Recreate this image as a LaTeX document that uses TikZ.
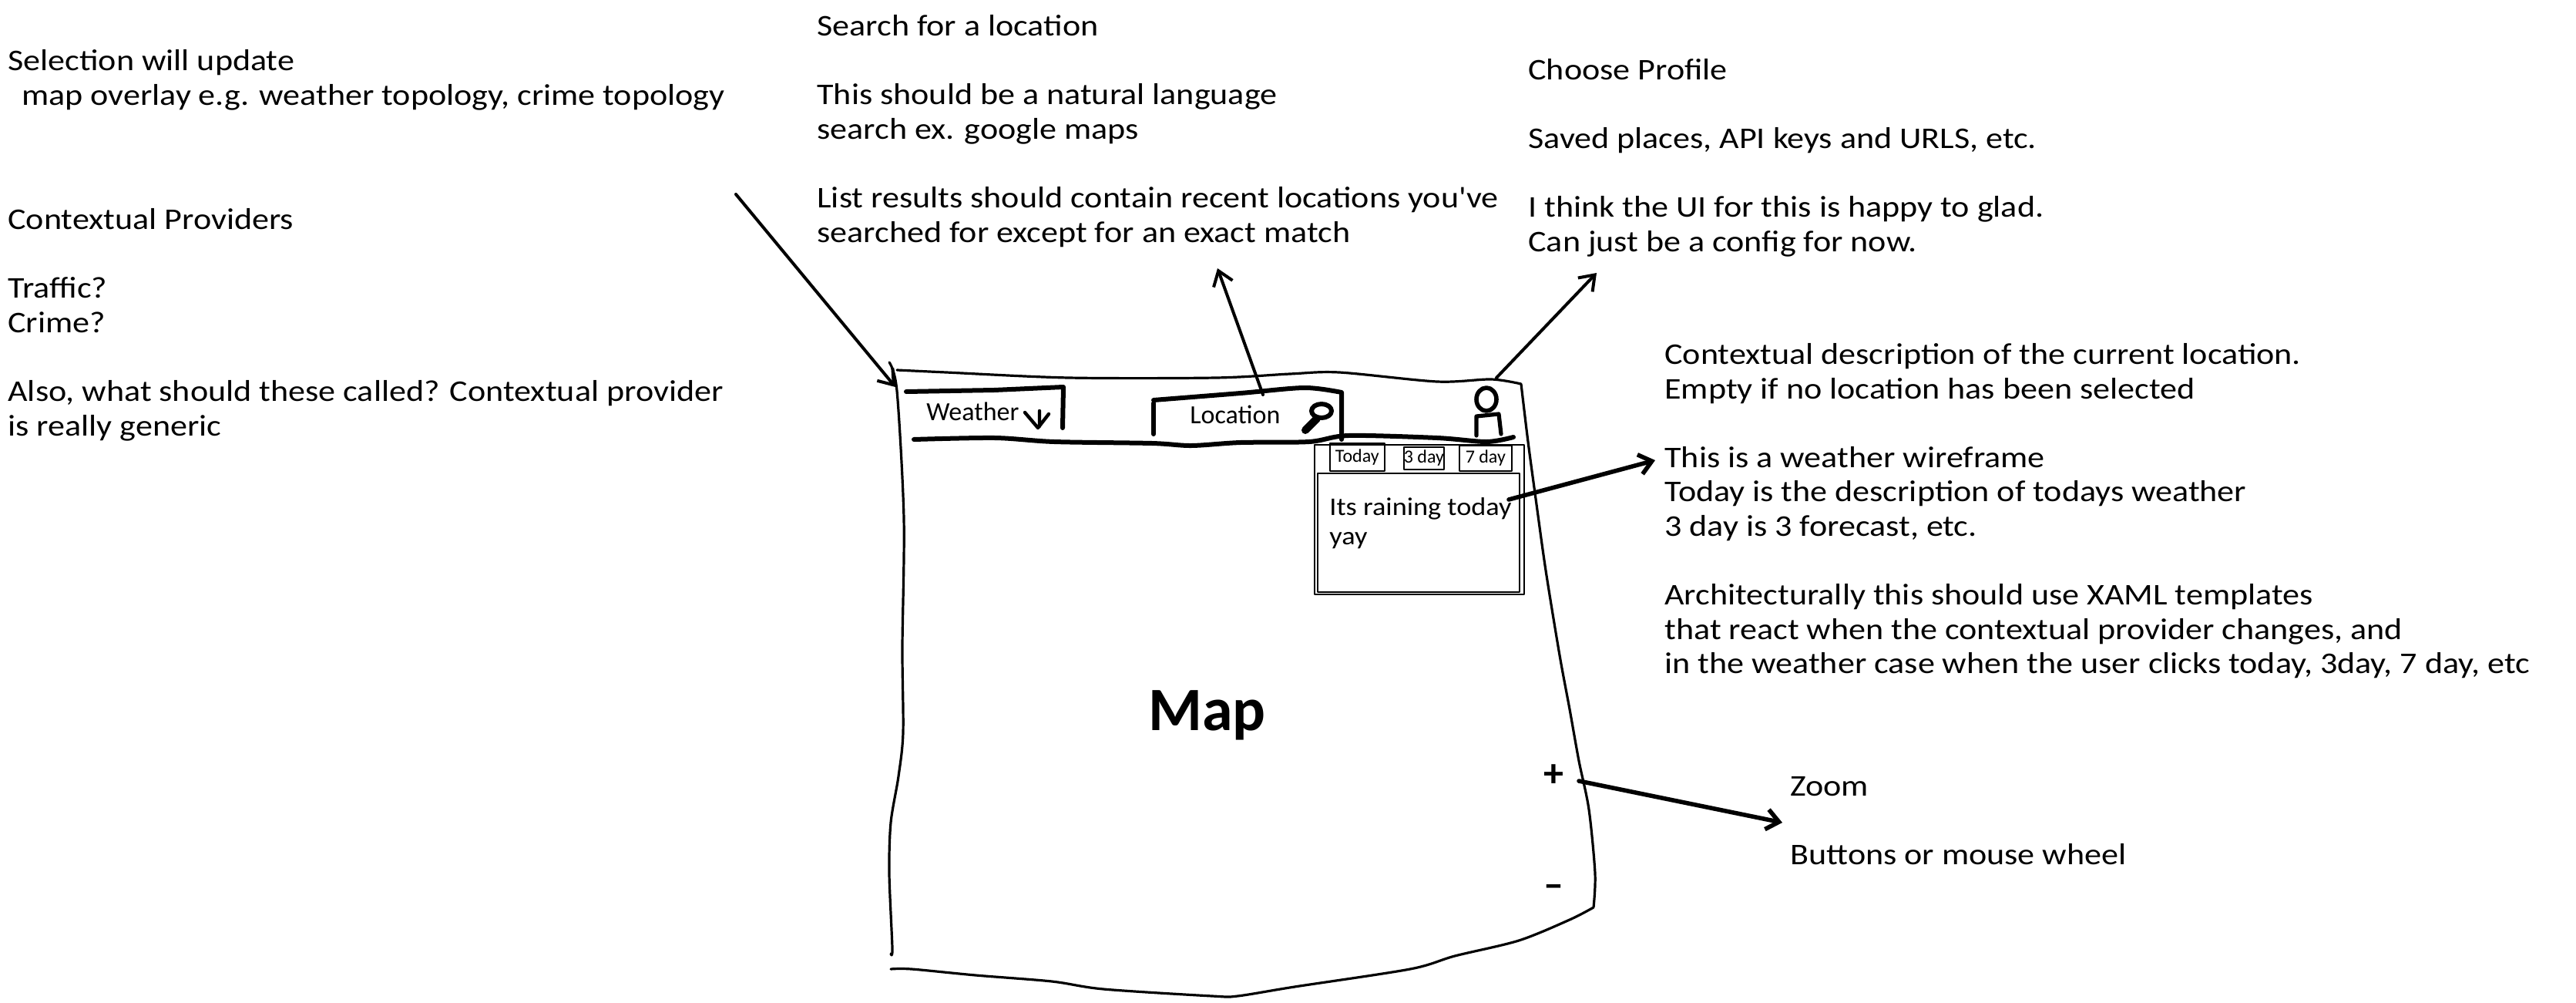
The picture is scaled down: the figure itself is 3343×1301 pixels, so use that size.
\documentclass[tikz,border=0pt]{standalone}
\usepackage{fontspec}
\setmainfont{Carlito}
\usetikzlibrary{arrows.meta}
\newfontfamily\notefamily[FakeStretch=1.13]{Carlito}
\newfontfamily\rainfamily[FakeStretch=1.1]{Carlito}
\tikzset{
  notetext/.style={font=\notefamily\fontsize{19.5}{22.3}\selectfont,align=left,anchor=north west,inner sep=0pt,execute at begin node=\strut},
  uitext/.style={font=\fontsize{17}{22}\selectfont,anchor=base west,inner sep=0pt},
  tabbox/.style={draw,line width=.8pt,font=\fontsize{12}{14}\selectfont,inner sep=0pt,anchor=north west},
  panelbox/.style={draw,line width=.8pt,inner sep=0pt,anchor=north west},
  wobble/.style={line width=1.6pt,line cap=round},
  barstroke/.style={line width=3pt,line cap=round},
  callout/.style={line width=2pt,line cap=round,-{Straight Barb[length=9pt,width=13pt,line width=2pt]}},
  heavycallout/.style={line width=2.8pt,line cap=round,-{Straight Barb[length=8pt,width=13pt,line width=2.8pt]}}
}
\begin{document}
\begin{tikzpicture}[x=.5pt,y=-.5pt,line join=round]
  \useasboundingbox (0,0) rectangle (3343,1301);
  % notes round the sketch
  \node[notetext] (selectnote) at (10,64) {Selection will update\\\hspace*{9pt}map overlay e.g. weather topology, crime topology};
  \node[notetext] (providernote) at (10,270) {Contextual Providers\\[22.3pt]Traffic?\\Crime?\\[22.3pt]Also, what should these called? Contextual provider\\is really generic};
  \node[notetext] (searchnote) at (1060,19) {Search for a location\\[22.3pt]This should be a natural language\\search ex. google maps\\[22.3pt]List results should contain recent locations you've\\searched for except for an exact match};
  \node[notetext] (profilenote) at (1983,76) {Choose Profile\\[22.3pt]Saved places, API keys and URLS, etc.\\[22.3pt]I think the UI for this is happy to glad.\\Can just be a config for now.};
  \node[notetext] (contextnote) at (2160,445) {Contextual description of the current location.\\Empty if no location has been selected\\[22.3pt]This is a weather wireframe\\Today is the description of todays weather\\3 day is 3 forecast, etc.\\[22.3pt]Architecturally this should use XAML templates\\that react when the contextual provider changes, and\\in the weather case when the user clicks today, 3day, 7 day, etc};
  \node[notetext] (zoomnote) at (2323,1007) {Zoom\\[22.3pt]Buttons or mouse wheel};

  % the window
  \draw[wobble] plot[smooth,tension=.5] coordinates {(1164,480) (1228,483) (1387,490) (1578,490) (1674,485) (1738,483) (1865,495) (1935,492) (1974,498)}
    plot[smooth,tension=.5] coordinates {(1974,498) (1983,573) (1993,647) (2006,740) (2024,850) (2037,920) (2049,987) (2062,1050) (2070,1133) (2068,1177)}
    plot[smooth,tension=.5] coordinates {(2068,1177) (2037,1193) (1971,1220) (1888,1240) (1830,1257) (1680,1280) (1606,1292) (1573,1292) (1432,1283) (1365,1273) (1266,1265) (1183,1257) (1156,1257)};
  \draw[wobble] plot[smooth,tension=.5] coordinates {(1154,470) (1164,507) (1173,673) (1171,840) (1172,950) (1166,1007) (1156,1067) (1154,1133) (1158,1230) (1156,1237)};

  % top bar
  \draw[barstroke] (1176,508) -- (1290,506) -- (1380,502) -- (1379,555);
  \draw[barstroke] (1497,523) -- (1497,563);
  \draw[barstroke] plot[smooth,tension=.5] coordinates {(1497,519) (1610,510) (1693,503) (1741,509)} -- (1741,570);
  \draw[barstroke] plot[smooth,tension=.5] coordinates {(1186,570) (1291,568) (1368,573) (1495,575) (1546,578) (1610,574) (1699,573) (1750,565) (1865,568) (1929,573) (1964,567)};
  \node[uitext] (weatherlabel) at (1202,545) {Weather};
  \node[uitext] (locationlabel) at (1544,549) {Location};
  \draw[line width=2.2pt,line cap=round] (1330,535) -- (1347,555) -- (1361,537) (1349,533) -- (1349,553);
  % magnifier
  \draw[line width=3pt] (1715,533) ellipse (13 and 9);
  \draw[line width=5pt,line cap=round] (1709,543) -- (1694,558);
  % profile
  \draw[line width=2.8pt] (1929,518) ellipse (13 and 15);
  \draw[line width=2.6pt,line cap=round] (1916,565) -- (1916,540) -- (1945,537) -- (1948,563);

  % weather panel
  \node[panelbox,minimum width=136pt,minimum height=97pt] (panelouter) at (1705,576) {};
  \node[panelbox,minimum width=131pt,minimum height=77pt] (panelinner) at (1709,613) {};
  \node[tabbox,minimum width=35.5pt,minimum height=18pt] (todaytab) at (1725,574) {Today};
  \node[tabbox,minimum width=26pt,minimum height=14.5pt] (threetab) at (1821,579) {3 day};
  \node[tabbox,minimum width=34pt,minimum height=16.5pt] (seventab) at (1893,577) {7 day};
  \node[notetext,font=\rainfamily\fontsize{16.5}{19}\selectfont] (rainnote) at (1725,645) {Its raining today\\yay};

  \node[font=\bfseries\fontsize{40}{44}\selectfont,anchor=base west,inner sep=0pt] (maplabel) at (1490,947) {Map};
  \node[font=\bfseries\fontsize{26}{28}\selectfont,inner sep=0pt] (zoomplus) at (2016,1006) {+};
  \node[font=\bfseries\fontsize{26}{28}\selectfont,inner sep=0pt] (zoomminus) at (2016,1156) {--};

  % arrows
  \coordinate (overlaytail) at (955,252);
  \coordinate (overlaytip) at (1162,502);
  \coordinate (searchtail) at (1639,512);
  \coordinate (searchtip) at (1580,348);
  \coordinate (profiletail) at (1942,490);
  \coordinate (profiletip) at (2072,354);
  \coordinate (paneltail) at (1958,648);
  \coordinate (paneltip) at (2148,597);
  \coordinate (zoomtail) at (2049,1013);
  \coordinate (zoomtip) at (2313,1067);
  \draw[callout] (overlaytail) -- (overlaytip);
  \draw[callout] (searchtail) -- (searchtip);
  \draw[callout] (profiletail) -- (profiletip);
  \draw[heavycallout] (paneltail) -- (paneltip);
  \draw[heavycallout] (zoomtail) -- (zoomtip);
\end{tikzpicture}
\end{document}
